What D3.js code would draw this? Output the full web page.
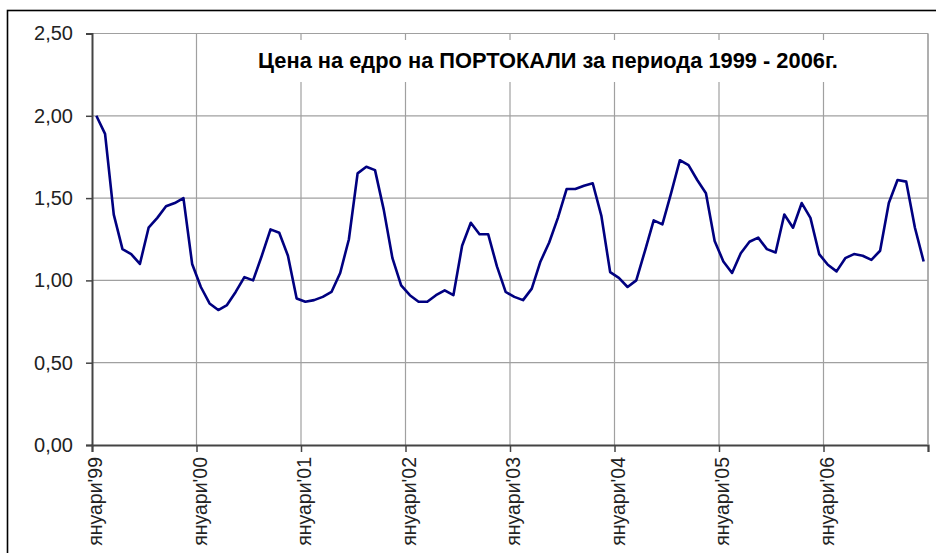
<!DOCTYPE html>
<html>
<head>
<meta charset="utf-8">
<script src="https://cdn.jsdelivr.net/npm/d3@7/dist/d3.min.js"></script>
<style>
  html, body { margin: 0; padding: 0; background: #ffffff; }
  svg { display: block; }
</style>
</head>
<body>
<svg id="chart" width="936" height="553"></svg>
<script>
// ---- data ----
const chartTitle = "Цена на едро на ПОРТОКАЛИ за периода 1999 - 2006г.";
const yearLabels = ["януари'99", "януари'00", "януари'01", "януари'02", "януари'03", "януари'04", "януари'05", "януари'06"];
const prices1999 = [2.00, 1.89, 1.40, 1.19, 1.16, 1.10, 1.32, 1.38, 1.45, 1.47, 1.50, 1.10];
const prices2000 = [0.96, 0.86, 0.82, 0.85, 0.93, 1.02, 1.00, 1.15, 1.31, 1.29, 1.15, 0.89];
const prices2001 = [0.87, 0.88, 0.90, 0.93, 1.045, 1.25, 1.65, 1.69, 1.67, 1.43, 1.135, 0.97];
const prices2002 = [0.91, 0.87, 0.87, 0.91, 0.94, 0.91, 1.21, 1.35, 1.28, 1.28, 1.085, 0.93];
const prices2003 = [0.90, 0.88, 0.95, 1.115, 1.23, 1.38, 1.555, 1.555, 1.575, 1.59, 1.39, 1.05];
const prices2004 = [1.015, 0.96, 1.00, 1.18, 1.365, 1.34, 1.53, 1.73, 1.70, 1.61, 1.53, 1.24];
const prices2005 = [1.115, 1.045, 1.165, 1.235, 1.26, 1.19, 1.17, 1.40, 1.32, 1.47, 1.38, 1.16];
const prices2006 = [1.095, 1.055, 1.135, 1.16, 1.15, 1.125, 1.18, 1.47, 1.61, 1.60, 1.32, 1.115];
const yTicks = [0, 0.5, 1.0, 1.5, 2.0, 2.5];

const prices = [].concat(prices1999, prices2000, prices2001, prices2002,
                         prices2003, prices2004, prices2005, prices2006);
const nCat = prices.length;            // 96 monthly categories
const boundaries = d3.range(0, nCat + 1, 12);

// ---- layout ----
const svg = d3.select("#chart");
const plot = { left: 92, right: 928, top: 33.5, bottom: 445 };
const font = "'Liberation Sans', Arial, sans-serif";

const x = d3.scaleLinear().domain([0, nCat]).range([plot.left, plot.right]);
const y = d3.scaleLinear().domain([0, 2.5]).range([plot.bottom, plot.top]);

// outer chart frame (extends beyond the visible picture on right/bottom)
svg.append("rect")
  .attr("x", 7.5).attr("y", 10.5)
  .attr("width", 960).attr("height", 580)
  .attr("fill", "#ffffff").attr("stroke", "#000000").attr("stroke-width", 1.6);

// plot area background
svg.append("rect")
  .attr("x", plot.left).attr("y", plot.top)
  .attr("width", plot.right - plot.left).attr("height", plot.bottom - plot.top)
  .attr("fill", "#ffffff");

// gridlines
const grid = svg.append("g").attr("stroke", "#a0a0a0").attr("stroke-width", 1.2);
grid.selectAll("line.h").data(yTicks.filter(d => d > 0)).join("line")
  .attr("x1", plot.left).attr("x2", plot.right)
  .attr("y1", d => y(d)).attr("y2", d => y(d));
grid.selectAll("line.v").data(boundaries.filter(d => d > 0)).join("line")
  .attr("x1", d => x(d)).attr("x2", d => x(d))
  .attr("y1", plot.top).attr("y2", plot.bottom);

// title (with its white backing box)
const titleG = svg.append("g");
const titleText = titleG.append("text")
  .attr("x", 548).attr("y", 68)
  .attr("text-anchor", "middle")
  .attr("font-family", font)
  .attr("font-weight", "bold")
  .attr("font-size", 20)
  .attr("fill", "#000000")
  .text(chartTitle);
const tl = titleText.node().getComputedTextLength();
titleText.attr("font-size", 20 * 580 / tl);
titleG.insert("rect", "text")
  .attr("x", 250).attr("y", 40).attr("width", 596).attr("height", 42)
  .attr("fill", "#ffffff");

// y axis
const yAxis = d3.axisLeft(y)
  .tickValues(yTicks)
  .tickSize(6)
  .tickPadding(13)
  .tickFormat(d => d3.format(".2f")(d).replace(".", ","));
const yg = svg.append("g").attr("transform", `translate(${plot.left},0)`).call(yAxis);
yg.select(".domain").attr("stroke", "#444444").attr("stroke-width", 2);
yg.selectAll(".tick line").attr("stroke", "#444444").attr("stroke-width", 1.5);
yg.selectAll(".tick text")
  .attr("font-family", font).attr("font-size", 20).attr("fill", "#222222");

// x axis: ticks at year boundaries
const xAxis = d3.axisBottom(x).tickValues(boundaries).tickSize(7).tickFormat("");
const xg = svg.append("g").attr("transform", `translate(0,${plot.bottom})`).call(xAxis);
xg.select(".domain").attr("stroke", "#444444").attr("stroke-width", 2);
xg.selectAll(".tick line").attr("stroke", "#444444").attr("stroke-width", 1.5);

// x labels at the January categories, rotated
svg.append("g").selectAll("text").data(yearLabels).join("text")
  .attr("transform", (d, i) => `translate(${x(i * 12 + 0.5) - 1},${plot.bottom + 12}) rotate(-90)`)
  .attr("text-anchor", "end")
  .attr("dominant-baseline", "central")
  .attr("font-family", font)
  .attr("font-size", 19.5)
  .attr("fill", "#222222")
  .text(d => d);

// right border of plot area
svg.append("line")
  .attr("x1", plot.right).attr("x2", plot.right)
  .attr("y1", plot.top).attr("y2", plot.bottom)
  .attr("stroke", "#a0a0a0").attr("stroke-width", 1.2);

// price line
const line = d3.line()
  .x((d, i) => x(i + 0.5))
  .y(d => y(d));
svg.append("path")
  .datum(prices)
  .attr("d", line)
  .attr("fill", "none")
  .attr("stroke", "#000080")
  .attr("stroke-width", 2.6)
  .attr("stroke-linejoin", "round");
</script>
</body>
</html>
